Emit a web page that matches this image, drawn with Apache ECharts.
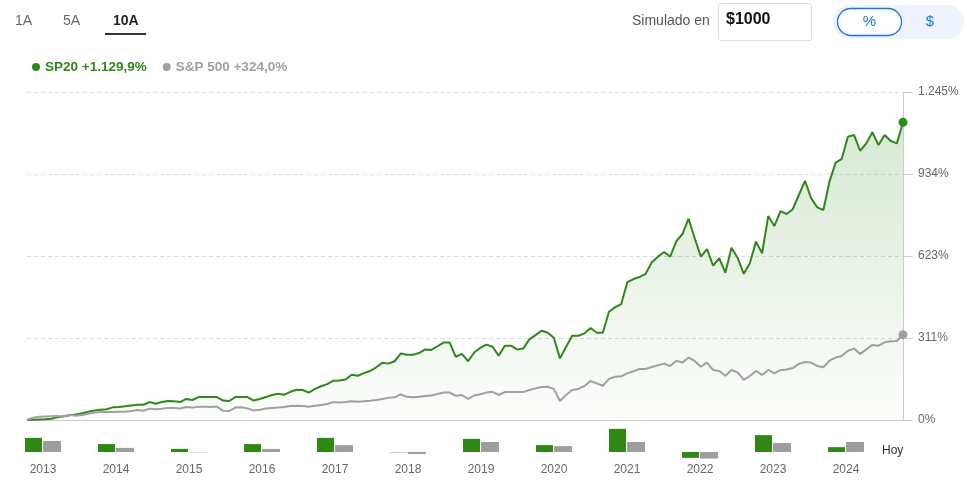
<!DOCTYPE html>
<html><head><meta charset="utf-8">
<script src="https://cdn.jsdelivr.net/npm/echarts/dist/echarts.min.js"></script>
<style>html,body{margin:0;padding:0;background:#fff}#c{width:967px;height:491px}</style>
</head><body><div id="c"></div>
<script>
// Cumulative return (%) monthly, SP20
const sp20 = [0,1,2,3,5,10,14,18,21,26,
31,36,39,41,48,49,52,55,58,58,
68,62,68,72,71,68,80,76,87,87,
87,87,74,72,87,87,87,74,80,87,
95,100,96,107,115,114,104,118,128,136,
149,150,154,172,168,178,186,200,217,214,
223,252,248,248,254,268,266,280,294,294,
240,251,223,256,274,286,278,244,282,282,
268,271,306,322,339,331,312,234,278,320,
320,329,349,331,331,411,428,440,523,535,
543,555,599,620,638,620,679,706,764,690,
620,649,586,614,559,654,616,555,595,677,
633,774,736,793,782,800,854,908,842,807,
797,905,977,991,1075,1082,1022,1050,1092,1044,
1082,1059,1050,1129.9];
// Cumulative return (%) monthly, S&P 500
const sp500 = [0,9,12,13,14,15,13,20,16,19,
24,28,30,30,30,31,31,34,38,35,
43,41,43,46,46,44,49,47,50,50,
49,51,35,34,47,48,44,36,39,44,
46,47,49,53,54,53,50,54,57,61,
68,66,68,71,69,71,73,76,80,84,
86,97,88,86,88,91,93,99,104,104,
92,95,80,93,98,104,107,95,106,106,
106,106,114,120,125,126,118,72,95,114,
118,129,148,139,130,156,164,166,177,185,
194,194,201,208,214,205,225,218,237,224,
202,218,190,186,168,190,181,152,167,186,
171,190,177,189,192,197,213,220,218,205,
200,225,237,243,263,271,251,268,285,282,
295,299,300,324.0];
// Annual returns (%)
const years = ['2013','2014','2015','2016','2017','2018','2019','2020','2021','2022','2023','2024'];
const sp20Annual = [41,23,9,23,41,-1,38,20,67,-17,49,14];
const sp500Annual = [32,12,-1,9,20,-6,29,17,29,-19,26,29];
// Y axis ticks
const yMin = 0, yMax = 1245, yStep = 311.25;

const GREEN = '#30881a', GRAY = '#a0a0a0', BLUE = '#1a73e8';
const FONT = '"Liberation Sans", Arial, sans-serif';

function fmt(v, dec) {
  const s = v.toFixed(dec);
  let [a, b] = s.split('.');
  a = a.replace(/\B(?=(\d{3})+(?!\d))/g, '.');
  return b ? a + ',' + b : a;
}
const lastItem = (arr) => arr.map((v, i) => i === arr.length - 1 ? {value: v, symbolSize: 9} : v);
const idx = sp20.map((_, i) => String(i));
const lastG = sp20[sp20.length - 1], lastS = sp500[sp500.length - 1];

const chart = echarts.init(document.getElementById('c'), null, {renderer: 'canvas'});
chart.setOption({
  animation: false,
  textStyle: {fontFamily: FONT},
  legend: {
    left: 27, top: 55, icon: 'circle', itemWidth: 8, itemHeight: 8, itemGap: 16,
    selectedMode: false,
    data: [{name: 'SP20', textStyle: {color: GREEN}}, {name: 'S&P 500', textStyle: {color: GRAY}}],
    textStyle: {fontFamily: FONT, fontWeight: 'bold', fontSize: 13.5},
    formatter: n => n + ' +' + fmt(n === 'SP20' ? lastG : lastS, 1) + '%'
  },
  grid: [
    {left: 27, right: 64, top: 92, bottom: 71},
    {left: 6.5, width: 876, top: 425, height: 36}
  ],
  xAxis: [
    {type: 'category', gridIndex: 0, data: idx, boundaryGap: false,
     axisLine: {lineStyle: {color: '#ccc'}}, axisTick: {show: false}, axisLabel: {show: false}, splitLine: {show: false}},
    {type: 'category', gridIndex: 1, data: years,
     axisLine: {show: false, onZero: false}, axisTick: {show: false},
     axisLabel: {color: '#666', fontSize: 12, margin: 3, fontFamily: FONT}}
  ],
  yAxis: [
    {type: 'value', gridIndex: 0, position: 'right', min: yMin, max: yMax, interval: yStep,
     axisLine: {show: true, lineStyle: {color: '#ccc'}},
     axisTick: {show: true, length: 10, lineStyle: {color: '#ccc'}},
     axisLabel: {margin: 15, color: '#666', fontSize: 12, fontFamily: FONT, formatter: v => fmt(Math.round(v), 0) + '%'},
     splitLine: {lineStyle: {color: '#ddd', type: [4, 3]}}},
    {type: 'value', gridIndex: 1, min: -26.1, max: 78.3, show: false}
  ],
  series: [
    {name: 'SP20', type: 'line', xAxisIndex: 0, yAxisIndex: 0, data: lastItem(sp20),
     symbol: 'circle', symbolSize: 0, showAllSymbol: true, silent: true,
     lineStyle: {color: GREEN, width: 2}, itemStyle: {color: GREEN},
     areaStyle: {color: new echarts.graphic.LinearGradient(0, 0, 0, 1, [
       {offset: 0, color: 'rgba(48,136,26,0.27)'}, {offset: 1, color: 'rgba(48,136,26,0.02)'}])},
     z: 2},
    {name: 'S&P 500', type: 'line', xAxisIndex: 0, yAxisIndex: 0, data: lastItem(sp500),
     symbol: 'circle', symbolSize: 0, showAllSymbol: true, silent: true,
     lineStyle: {color: GRAY, width: 2}, itemStyle: {color: GRAY}, z: 3},
    {name: 'SP20 anual', type: 'bar', xAxisIndex: 1, yAxisIndex: 1, data: sp20Annual,
     barWidth: 17, barGap: '6%', itemStyle: {color: '#2f8714'}, silent: true},
    {name: 'S&P 500 anual', type: 'bar', xAxisIndex: 1, yAxisIndex: 1, data: sp500Annual,
     barWidth: 18, itemStyle: {color: '#9e9e9e'}, silent: true}
  ],
  graphic: [
    {type: 'text', left: 15, top: 14, style: {text: '1A', fontSize: 14, fill: '#666', fontFamily: FONT}},
    {type: 'text', left: 63, top: 14, style: {text: '5A', fontSize: 14, fill: '#666', fontFamily: FONT}},
    {type: 'text', left: 113, top: 14, style: {text: '10A', fontSize: 14, fontWeight: 'bold', fill: '#222', fontFamily: FONT}},
    {type: 'rect', shape: {x: 105, y: 33, width: 41, height: 2}, style: {fill: '#333'}},
    {type: 'text', left: 632, top: 14, style: {text: 'Simulado en', fontSize: 14, fill: '#555', fontFamily: FONT}},
    {type: 'rect', shape: {x: 718.5, y: 3.5, width: 93, height: 37, r: 2}, style: {fill: '#fff', stroke: '#dcdcdc', lineWidth: 1}},
    {type: 'text', left: 726, top: 12, style: {text: '$1000', fontSize: 16, fontWeight: 'bold', fill: '#111', fontFamily: FONT}},
    {type: 'rect', shape: {x: 833, y: 5, width: 131, height: 34, r: 17}, style: {fill: '#eef3fc'}},
    {type: 'rect', shape: {x: 837.5, y: 8.5, width: 64, height: 27, r: 13.5}, style: {fill: '#fff', stroke: BLUE, lineWidth: 1.3}},
    {type: 'text', x: 869.5, y: 22, style: {text: '%', fontSize: 15, fill: BLUE, align: 'center', verticalAlign: 'middle', fontFamily: FONT}},
    {type: 'text', x: 930, y: 22, style: {text: '$', fontSize: 15, fill: BLUE, align: 'center', verticalAlign: 'middle', fontFamily: FONT}},
    {type: 'text', x: 882, y: 450.5, style: {text: 'Hoy', fontSize: 12, fill: '#333', verticalAlign: 'middle', fontFamily: FONT}}
  ]
});
</script>
</body></html>
